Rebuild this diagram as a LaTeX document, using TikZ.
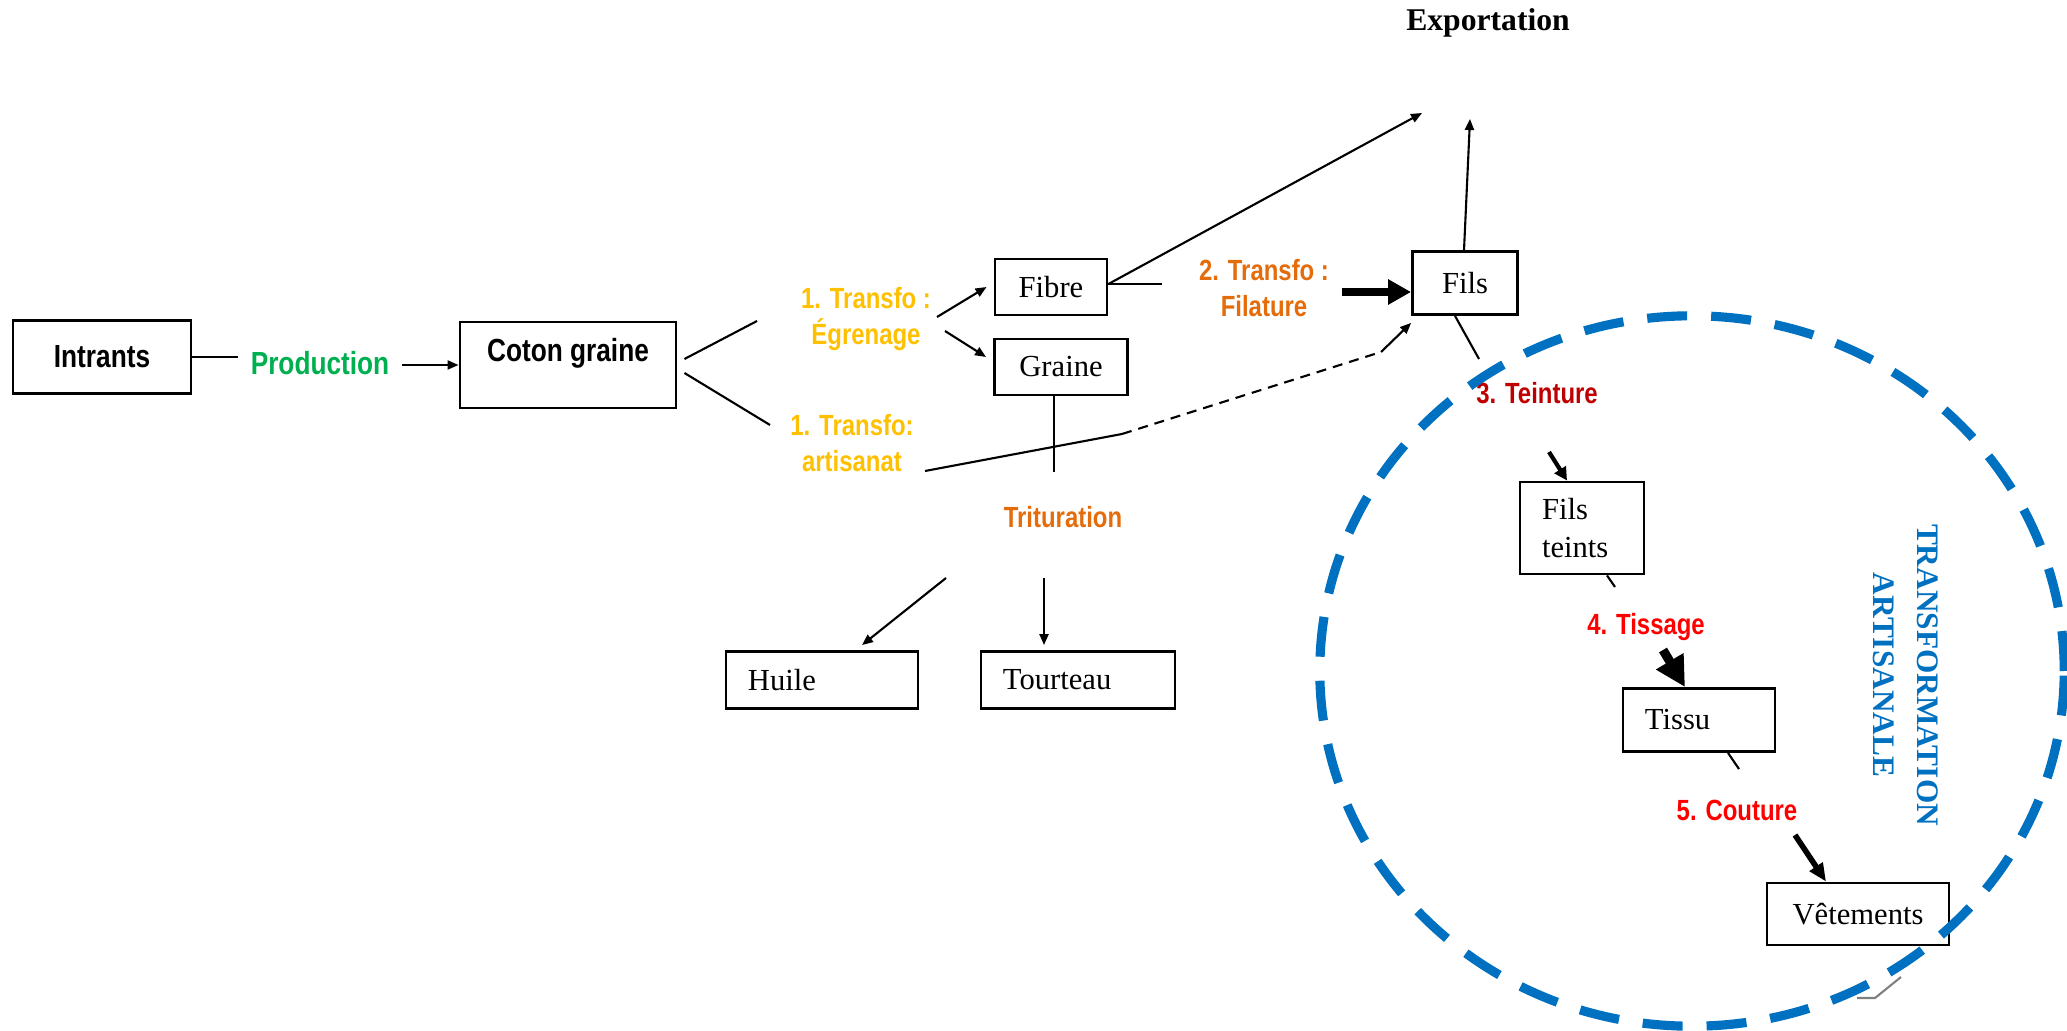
\documentclass[tikz,border=0pt]{standalone}
\usepackage{fontspec}
\setmainfont{Liberation Serif}
\newfontfamily\narrowsans[FakeStretch=0.82]{Liberation Sans}
\usetikzlibrary{arrows.meta}
\definecolor{prodgreen}{RGB}{0,176,80}
\definecolor{transfoyellow}{RGB}{255,192,0}
\definecolor{transfoorange}{RGB}{228,108,10}
\definecolor{teinturered}{RGB}{192,0,0}
\definecolor{artblue}{RGB}{0,112,192}

\begin{document}
\begin{tikzpicture}
[>={Triangle[length=0.11cm,width=0.09cm]},x=0.01cm,y=-0.01cm,line width=0.6pt,
 box/.style={draw,rectangle,line width=0.8pt,inner sep=0pt,font=\fontsize{8.7}{10.8}\selectfont},
 boldbox/.style={draw,rectangle,line width=0.8pt,inner sep=0pt,font=\narrowsans\bfseries\fontsize{9.1}{11}\selectfont},
 stage/.style={align=center,font=\narrowsans\bfseries\fontsize{8.3}{10}\selectfont}]

\useasboundingbox (0,0) rectangle (2067,1031);

% boxes
\node[boldbox,minimum width=1.78cm,minimum height=0.73cm] (intrants) at (102,357) {Intrants};
\node[boldbox,minimum width=2.16cm,minimum height=0.86cm,text depth=0.3cm] (coton) at (568,365) {Coton graine};
\node[box,minimum width=1.12cm,minimum height=0.56cm] (fibre) at (1051,287) {Fibre};
\node[box,minimum width=1.33cm,minimum height=0.56cm] (graine) at (1061,367) {Graine};
\node[box,minimum width=1.05cm,minimum height=0.63cm] (fils) at (1465,283) {Fils};
\node[box,text width=1.48cm,inner xsep=0.22cm,minimum height=0.57cm,align=left] (huile) at (822,680) {Huile};
\node[box,text width=1.50cm,inner xsep=0.22cm,minimum height=0.57cm,align=left] (tourteau) at (1078,680) {Tourteau};
\node[box,text width=0.80cm,inner xsep=0.22cm,minimum height=0.92cm,align=left] (filsteints) at (1582,528) {Fils\\teints};
\node[box,text width=1.08cm,inner xsep=0.22cm,minimum height=0.63cm,align=left] (tissu) at (1699,720) {Tissu};
\node[box,minimum width=1.82cm,minimum height=0.62cm] (vetements) at (1858,914) {Vêtements};

% labels
\node[stage,text=prodgreen,font=\narrowsans\bfseries\fontsize{9.1}{11}\selectfont] (production) at (320,363) {Production};
\node[stage,text=transfoyellow] (egrenage) at (866,319) {1. Transfo :\\Égrenage};
\node[stage,text=transfoyellow] (artisanat) at (852,443) {1. Transfo:\\artisanat};
\node[stage,text=transfoorange] (filature) at (1264,288) {2. Transfo :\\Filature};
\node[stage,text=transfoorange] (trituration) at (1063,517) {Trituration};
\node[stage,text=teinturered] (teinture) at (1537,393) {3. Teinture};
\node[stage,text=red] (tissage) at (1646,627) {4. Tissage};
\node[stage,text=red] (couture) at (1737,810) {5. Couture};
\node[font=\bfseries\fontsize{9}{11}\selectfont] (export) at (1488,23) {Exportation};
\node[rotate=-90,align=center,text=artblue,font=\bfseries\fontsize{8.9}{12.5}\selectfont] (artisanale) at (1906,675) {TRANSFORMATION\\ARTISANALE};

% free ends
\coordinate (egrin) at (757,321);
\coordinate (artin) at (770,425);
\coordinate (egrA) at (937,317);
\coordinate (egrB) at (945,331);
\coordinate (exportA) at (1422,113);
\coordinate (exportB) at (1470,119);
\coordinate (filA) at (1162,284);
\coordinate (filsin) at ([shift={(0,9)}]fils.west);
\coordinate (teinA) at (1479,359);
\coordinate (teinB) at (1549,452);
\coordinate (artA) at (925,471);
\coordinate (artB) at (1122,434);
\coordinate (artC) at (1381,352);
\coordinate (trA) at (1054,472);
\coordinate (trB) at (946,578);
\coordinate (trC) at (1044,578);
\coordinate (tisA) at (1615,587);
\coordinate (tisB) at (1663,650);
\coordinate (couA) at (1739,769);
\coordinate (couB) at (1795,835);

% connectors
\draw (intrants.east) -- (intrants.east -| production.west);
\draw[->] (production.east |- coton.west) -- (coton.west);
\draw ([shift={(7,-6)}]coton.east) -- (egrin);
\draw ([shift={(7,8)}]coton.east) -- (artin);
\draw[->] (egrA) -- ([shift={(-7,0)}]fibre.west);
\draw[->] (egrB) -- ([shift={(-7,-10)}]graine.west);
\draw[->] ([shift={(0,-3)}]fibre.east) -- (exportA);
\draw ([shift={(0,-3)}]fibre.east) -- (filA);
\draw[line width=2.3pt,-{Triangle[length=0.23cm,width=0.24cm]}] (filature.east |- filsin) -- (filsin);
\draw[->] ([shift={(-1,0)}]fils.north) -- (exportB);
\draw ([shift={(-10,0)}]fils.south) -- (teinA);
\draw (artA) -- (artB);
\draw[dash pattern=on 0.1cm off 0.07cm] (artB) -- (artC);
\draw[->] (artC) -- ([shift={(0,7)}]fils.south west);
\draw ([shift={(-7,0)}]graine.south) -- (trA);
\draw[->] (trB) -- ([shift={(40,-5)}]huile.north);
\draw[->] (trC) -- ([shift={(-34,-5)}]tourteau.north);
\draw[line width=1.2pt,-{Triangle[length=0.13cm,width=0.13cm]}] (teinB) -- ([shift={(-15,0)}]filsteints.north);
\draw ([shift={(25,0)}]filsteints.south) -- (tisA);
\draw[line width=2.6pt,-{Triangle[length=0.3cm,width=0.3cm]}] (tisB) -- ([shift={(-14,0)}]tissu.north);
\draw ([shift={(29,0)}]tissu.south) -- (couA);
\draw[line width=1.6pt,-{Triangle[length=0.18cm,width=0.15cm]}] (couB) -- ([shift={(-32,0)}]vetements.north);

% artisanal circle
\draw[artblue,line width=2.6pt,dash pattern=on 0.4cm off 0.24cm] (1692,671) ellipse [x radius=3.72cm,y radius=3.55cm];
\draw[gray,line width=0.6pt] (1857,998) -- (1875,998) -- (1901,977);
\end{tikzpicture}
\end{document}
